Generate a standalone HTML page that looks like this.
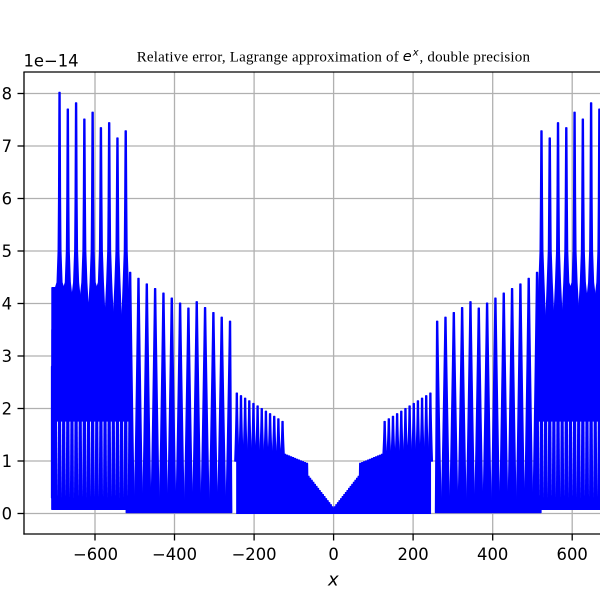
<!DOCTYPE html>
<html>
<head>
<meta charset="utf-8">
<style>
html,body{margin:0;padding:0;background:#fff;}
svg{display:block;}
.tk{font-family:"DejaVu Sans","Liberation Sans",sans-serif;font-size:16.4px;fill:#000;}
.tt{font-family:"Liberation Serif","DejaVu Serif",serif;font-size:15px;fill:#000;}
.mi{font-family:"DejaVu Sans","Liberation Sans",sans-serif;font-style:italic;fill:#000;}
</style>
</head>
<body>
<svg id="s" width="600" height="600" viewBox="0 0 600 600" xmlns="http://www.w3.org/2000/svg">
<rect width="600" height="600" fill="#fff"/>
<defs><clipPath id="ax"><rect x="24" y="72" width="619" height="462"/></clipPath></defs>
<g stroke="#b0b0b0" stroke-width="1.3" fill="none">
<line x1="95" y1="72" x2="95" y2="534"/>
<line x1="174.5" y1="72" x2="174.5" y2="534"/>
<line x1="254.1" y1="72" x2="254.1" y2="534"/>
<line x1="333.6" y1="72" x2="333.6" y2="534"/>
<line x1="413.1" y1="72" x2="413.1" y2="534"/>
<line x1="492.7" y1="72" x2="492.7" y2="534"/>
<line x1="572.2" y1="72" x2="572.2" y2="534"/>
<line x1="24" y1="93.5" x2="643" y2="93.5"/>
<line x1="24" y1="146" x2="643" y2="146"/>
<line x1="24" y1="198.5" x2="643" y2="198.5"/>
<line x1="24" y1="251" x2="643" y2="251"/>
<line x1="24" y1="303.5" x2="643" y2="303.5"/>
<line x1="24" y1="356" x2="643" y2="356"/>
<line x1="24" y1="408.5" x2="643" y2="408.5"/>
<line x1="24" y1="461" x2="643" y2="461"/>
<line x1="24" y1="513.5" x2="643" y2="513.5"/>
</g>
<g clip-path="url(#ax)" id="data"></g>
<g stroke="#000" stroke-width="1.3" fill="none">
<line x1="24" y1="72" x2="24" y2="534.6"/>
<line x1="23.4" y1="72" x2="643" y2="72"/>
<line x1="23.4" y1="534" x2="643" y2="534"/>
<line x1="17.5" y1="93.5" x2="24" y2="93.5"/>
<line x1="17.5" y1="146" x2="24" y2="146"/>
<line x1="17.5" y1="198.5" x2="24" y2="198.5"/>
<line x1="17.5" y1="251" x2="24" y2="251"/>
<line x1="17.5" y1="303.5" x2="24" y2="303.5"/>
<line x1="17.5" y1="356" x2="24" y2="356"/>
<line x1="17.5" y1="408.5" x2="24" y2="408.5"/>
<line x1="17.5" y1="461" x2="24" y2="461"/>
<line x1="17.5" y1="513.5" x2="24" y2="513.5"/>
<line x1="95" y1="534" x2="95" y2="540.5"/>
<line x1="174.5" y1="534" x2="174.5" y2="540.5"/>
<line x1="254.1" y1="534" x2="254.1" y2="540.5"/>
<line x1="333.6" y1="534" x2="333.6" y2="540.5"/>
<line x1="413.1" y1="534" x2="413.1" y2="540.5"/>
<line x1="492.7" y1="534" x2="492.7" y2="540.5"/>
<line x1="572.2" y1="534" x2="572.2" y2="540.5"/>
</g>
<g class="tk" text-anchor="end">
<text x="12" y="99.4">8</text>
<text x="12" y="151.9">7</text>
<text x="12" y="204.4">6</text>
<text x="12" y="256.9">5</text>
<text x="12" y="309.4">4</text>
<text x="12" y="361.9">3</text>
<text x="12" y="414.4">2</text>
<text x="12" y="466.9">1</text>
<text x="12" y="519.4">0</text>
</g>
<g class="tk" text-anchor="middle">
<text x="95.5" y="560">−600</text>
<text x="174.5" y="560">−400</text>
<text x="254.1" y="560">−200</text>
<text x="333.6" y="560">0</text>
<text x="413.1" y="560">200</text>
<text x="492.7" y="560">400</text>
<text x="572.2" y="560">600</text>
</g>
<text class="tk" x="23.5" y="66.7">1e−14</text>
<text class="mi" x="333.3" y="585.7" font-size="18" text-anchor="middle">x</text>
<text class="tt" x="136.7" y="61.7" textLength="262" lengthAdjust="spacing">Relative error, Lagrange approximation of</text>
<text class="mi" x="402.7" y="61.2" font-size="14.5">e</text>
<text class="mi" x="412.8" y="55.3" font-size="10">x</text>
<text class="tt" x="419.5" y="61.7" textLength="110.5" lengthAdjust="spacing">, double precision</text>
</svg>
<script>
(function(){
var NS="http://www.w3.org/2000/svg";
var g=document.getElementById("data");
var X=function(x){return 333.6+0.3977*x;}, Y=function(v){return 513.5-52.5*v;};
function f2(n){return n.toFixed(2);}
function add(pts,fill,stroke){
  var p=document.createElementNS(NS,"polygon");
  p.setAttribute("points",pts.map(function(q){return f2(q[0])+","+f2(q[1]);}).join(" "));
  p.setAttribute("fill",fill);
  if(stroke){p.setAttribute("stroke",stroke);p.setAttribute("stroke-width","1.5");p.setAttribute("stroke-linejoin","round");}
  g.appendChild(p);
}
var B="#0000ff";
function spike(c,p,hbIn,hbOut,e,vb,sg){
  var cx=X(sg*c), hbL=(sg>0?hbIn:hbOut), hbR=(sg>0?hbOut:hbIn), L=[], R=[], n=16;
  for(var i=0;i<=n;i++){
    var t=i/n, v=vb+(p-vb)*t, q=Math.pow(1-t,e);
    L.push([cx-(0.45+(hbL-0.45)*q),Y(v)]);
    R.push([cx+(0.45+(hbR-0.45)*q),Y(v)]);
  }
  add(L.concat(R.reverse()),B,B);
}
function spikeA(c,p,gbIn,gbOut,sg){
  var cx=X(sg*c), gL=Math.min(sg>0?gbIn:gbOut,4.3), gR=Math.min(sg>0?gbOut:gbIn,4.3);
  add([[cx-3.9,Y(0.08)],[cx-3.9,Y(gL)],[cx-2.3,Y(4.4)],[cx-1.25,Y(5.0)],[cx-0.85,Y(6.0)],[cx-0.45,Y(p)],
       [cx+0.45,Y(p)],[cx+0.85,Y(6.0)],[cx+1.25,Y(5.0)],[cx+2.3,Y(4.4)],[cx+3.9,Y(gR)],[cx+3.9,Y(0.08)]],B,B);
}
function rect(x1,x2,v1,v2){add([[X(x1),Y(v1)],[X(x1),Y(v2)],[X(x2),Y(v2)],[X(x2),Y(v1)]],B,B);}
var Bp=[3.66,3.735,3.825,3.92,4.03,3.91,4.005,4.10,4.195,4.28,4.37,4.475,4.59];
var Ap=[7.285,7.15,7.44,7.345,7.64,7.51,7.82,7.70,8.02];
var G=[3.56,3.69,3.72,4.35,3.84,4.1,4.13,4.39];
var x;
function T(a){
  if(a<64) return 0.1+0.62*(Math.ceil(a/4)*4)/64;
  if(a<=128.4) return 0.95+0.2*(Math.ceil((a-64)/5)*5)/64;
  return 1.2;
}
var f=[[X(-245),Y(-0.01)]];
for(x=-245;x<=245.001;x+=0.5){f.push([X(x),Y(T(Math.abs(x)))]);}
f.push([X(245),Y(-0.01)]);
add(f,B,null);
[1,-1].forEach(function(sg){
  var k;
  for(k=0;k<12;k++) spike(128.4+10.45*k,1.75+0.54*k/11,1.9,1.9,1.5,1.0,sg);
  for(k=0;k<13;k++) spike(260.4+20.93*k,Bp[k],(k==0?1.6:3.85),3.85,1.1,0.02,sg);
  if(sg>0){ rect(514,708,0.08,3.5); rect(689,708,0.08,4.3); rect(706,709,0.3,2.8); }
  else { rect(-708,-514,0.08,3.5); rect(-708,-689,0.08,4.3); rect(-709,-706,0.3,2.8); }
  for(k=0;k<9;k++){
    var gin=(k==0?3.5:G[k-1]), gout=(k==8?4.3:G[k]);
    spikeA(522.7+20.8*k,Ap[k],gin,gout,sg);
  }
  for(k=0;k<9;k++){
    var cx=X(sg*(522.7+20.8*k));
    [-2.1,2.1].forEach(function(o){
      var xx=cx+o;
      add([[xx-0.45,Y(1.75)],[xx+0.45,Y(1.75)],[xx,Y(0.3)]],"#ffffff",null);
    });
  }
});
})();
</script>
</body>
</html>
